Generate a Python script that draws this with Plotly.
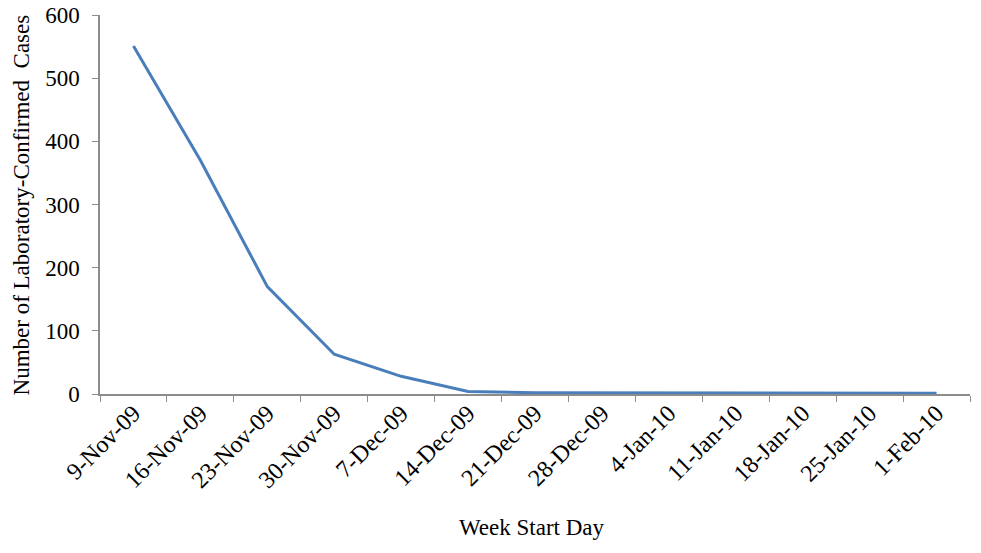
import plotly.graph_objects as go

weeks = [
    "9-Nov-09", "16-Nov-09", "23-Nov-09", "30-Nov-09", "7-Dec-09",
    "14-Dec-09", "21-Dec-09", "28-Dec-09", "4-Jan-10", "11-Jan-10",
    "18-Jan-10", "25-Jan-10", "1-Feb-10",
]
cases = [551, 370, 170, 63, 28, 4, 2, 2, 2, 1, 1, 1, 1]
y_ticks = [0, 100, 200, 300, 400, 500, 600]

FONT = "Liberation Serif, Times New Roman, serif"
AXIS_GREY = "#8c8c8c"

fig = go.Figure(
    go.Scatter(
        x=weeks,
        y=cases,
        mode="lines",
        line={"color": "#4a7ebb", "width": 3},
        hovertemplate="%{x}: %{y}<extra></extra>",
    )
)

fig.update_layout(
    width=981,
    height=553,
    margin={"l": 100, "r": 11, "t": 15, "b": 159},
    paper_bgcolor="white",
    plot_bgcolor="white",
    showlegend=False,
    font={"family": FONT, "color": "black", "size": 23},
    annotations=[
        {
            "text": "Week Start Day",
            "xref": "paper",
            "yref": "paper",
            "x": 0.497,
            "y": -0.351,
            "yanchor": "middle",
            "showarrow": False,
            "font": {"size": 23},
        },
        {
            "text": "Number of Laboratory-Confirmed  Cases",
            "xref": "paper",
            "yref": "paper",
            "x": -0.0897,
            "y": 0.5,
            "xanchor": "center",
            "yanchor": "middle",
            "textangle": -90,
            "showarrow": False,
            "font": {"size": 23},
        },
    ],
)

fig.update_xaxes(
    type="category",
    range=[-0.5, len(weeks) - 0.5],
    automargin=False,
    tickangle=-45,
    tickson="boundaries",
    ticks="outside",
    ticklen=6,
    ticklabelstandoff=-6,
    tickcolor=AXIS_GREY,
    showline=True,
    linecolor=AXIS_GREY,
    linewidth=1.5,
    showgrid=False,
    tickfont={"size": 24},
)

fig.update_yaxes(
    range=[0, 600],
    automargin=False,
    tickvals=y_ticks,
    ticks="outside",
    ticklen=6,
    ticklabelstandoff=8,
    tickcolor=AXIS_GREY,
    showline=True,
    linecolor=AXIS_GREY,
    linewidth=1.5,
    showgrid=False,
    zeroline=False,
    tickfont={"size": 23},
)

# drop the browser's default body margin so the figure fills the window
fig.write_html(
    "out.html",
    config={"displayModeBar": False},
    post_script="document.body.style.margin = '0px';",
)
